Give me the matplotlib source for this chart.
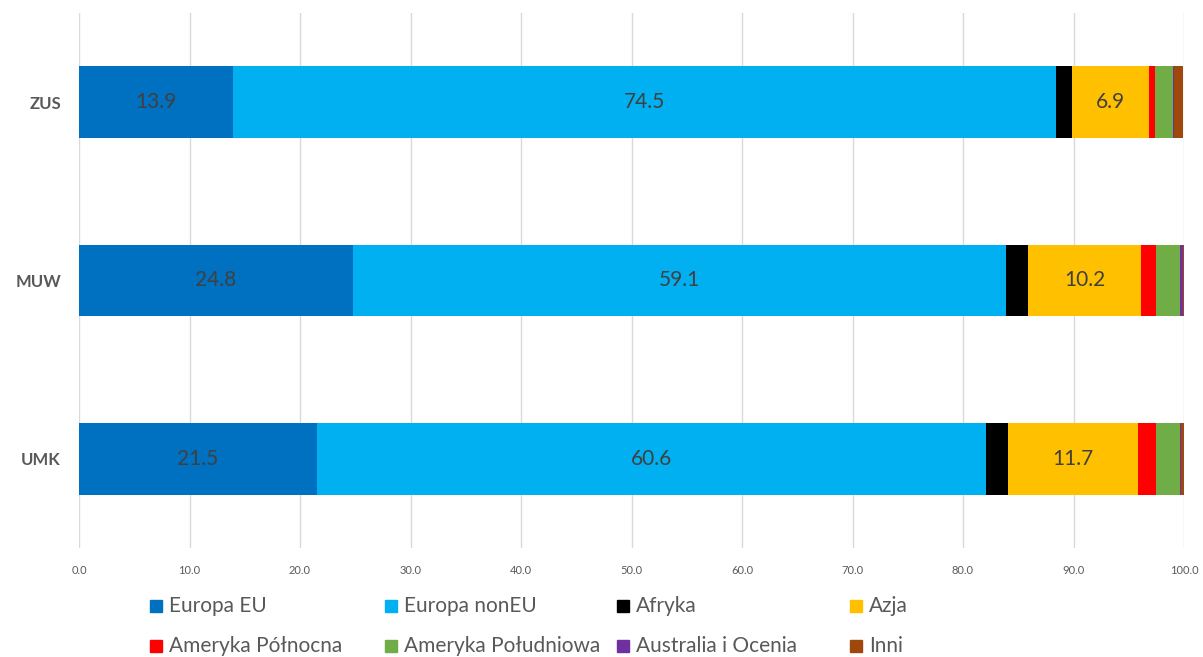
import matplotlib
matplotlib.use("Agg")
import matplotlib.pyplot as plt
import numpy as np

categories = ["ZUS", "MUW", "UMK"]
series_names = ["Europa EU", "Europa nonEU", "Afryka", "Azja",
                "Ameryka Północna", "Ameryka Południowa", "Australia i Ocenia", "Inni"]
europa_eu = [13.9, 24.8, 21.5]
europa_noneu = [74.5, 59.1, 60.6]
afryka = [1.5, 2.0, 2.0]
azja = [6.9, 10.2, 11.7]
ameryka_pn = [0.6, 1.4, 1.7]
ameryka_pd = [1.6, 2.1, 2.1]
australia = [0.1, 0.3, 0.1]
inni = [0.8, 0.1, 0.3]
labeled_series = ["Europa EU", "Europa nonEU", "Azja"]
tick_values = [0, 10, 20, 30, 40, 50, 60, 70, 80, 90, 100]

series = [europa_eu, europa_noneu, afryka, azja, ameryka_pn, ameryka_pd, australia, inni]
colors = ["#0070C0", "#00B0F0", "#000000", "#FFC000", "#FF0000", "#70AD47", "#7030A0", "#9E480E"]

plt.rcParams['font.family'] = ['Lato', 'DejaVu Sans']
W, H = 1203, 657
fig = plt.figure(figsize=(W / 100, H / 100), dpi=100)
ax = fig.add_axes([79 / W, 1 - 548 / H, (1184 - 79) / W, (548 - 13) / H])

ypos = np.arange(len(categories))[::-1]
left = np.zeros(len(categories))
for name, vals, col in zip(series_names, series, colors):
    vals = np.array(vals)
    ax.barh(ypos, vals, left=left, height=0.4, color=col, label=name, zorder=3)
    if name in labeled_series:
        for y, l, v in zip(ypos, left, vals):
            ax.text(l + v / 2, y, f"{v:.1f}", ha="center", va="center",
                    fontsize=15, color="#404040", zorder=4)
    left += vals

ax.set_xlim(0, 100)
ax.set_ylim(-0.5, 2.5)
ax.set_xticks(tick_values)
ax.set_xticklabels([f"{v:.1f}" for v in tick_values], fontsize=8, color="#595959")
ax.set_yticks(ypos)
ax.set_yticklabels(categories, fontsize=12, fontweight="bold", color="#595959")
ax.tick_params(axis="both", length=0)
ax.tick_params(axis="x", pad=12)
ax.tick_params(axis="y", pad=13)
ax.grid(axis="x", color="#D9D9D9", linewidth=1, zorder=0)
for s in ax.spines.values():
    s.set_visible(False)

# legend laid out in a uniform grid like the original
col_x = [150, 385, 617, 850]
row_y = [606, 646]
for i, (name, col) in enumerate(zip(series_names, colors)):
    r, c = divmod(i, 4)
    x, y = col_x[c], row_y[r]
    fig.patches.append(plt.Rectangle((x / W, 1 - (y + 6) / H), 12 / W, 12 / H,
                                     transform=fig.transFigure, color=col, figure=fig))
    fig.text((x + 19) / W, 1 - y / H, name, ha="left", va="center",
             fontsize=15, color="#595959")

fig.savefig("out.png", dpi=100)
